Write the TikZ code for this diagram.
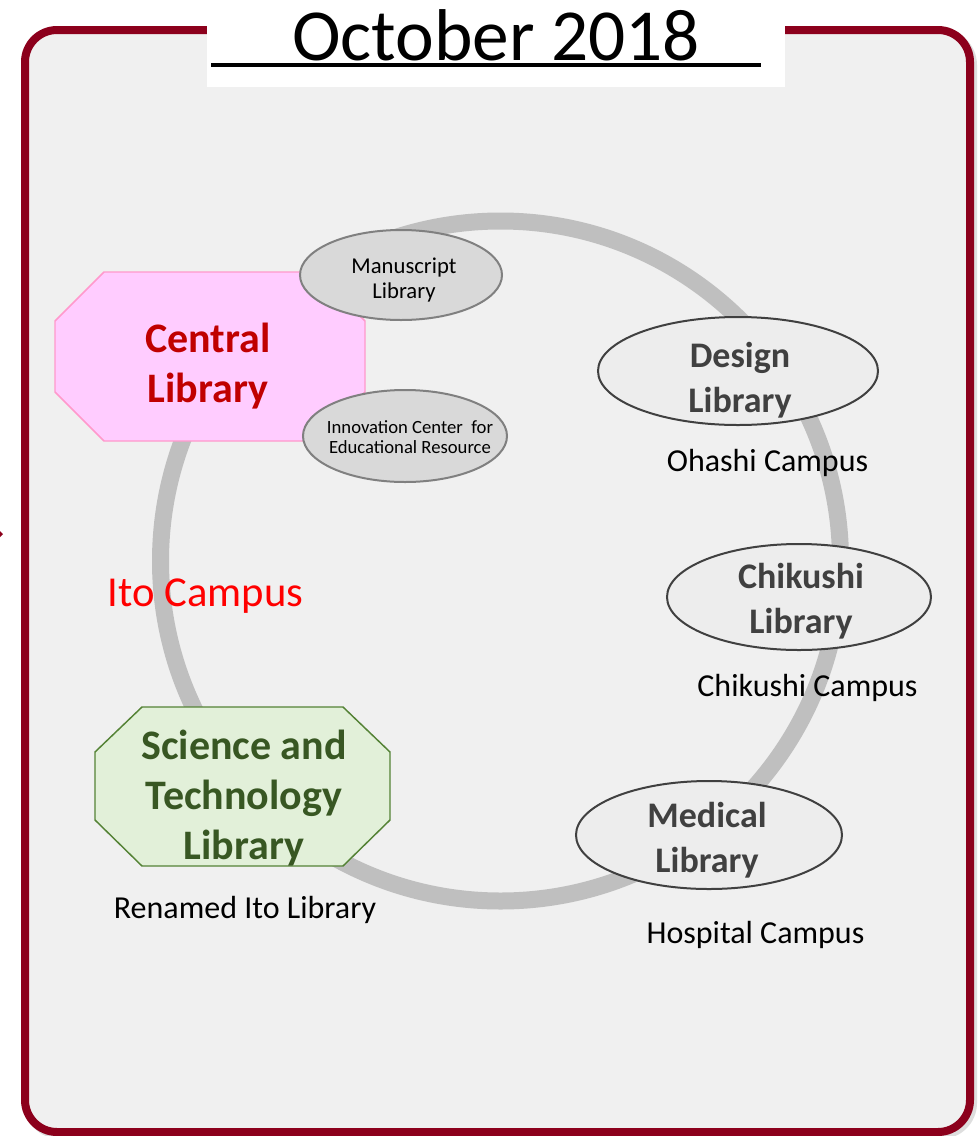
\documentclass[tikz,border=0pt]{standalone}
\usepackage{fontspec}
\setmainfont{Carlito}
\usetikzlibrary{shapes.geometric}
\definecolor{framered}{RGB}{140,0,28}
\definecolor{bgfill}{RGB}{240,240,240}
\definecolor{ringgray}{RGB}{191,191,191}
\definecolor{pinkfill}{RGB}{255,204,255}
\definecolor{pinkline}{RGB}{255,153,204}
\definecolor{centralred}{RGB}{192,0,0}
\definecolor{greenfill}{RGB}{226,240,217}
\definecolor{greenline}{RGB}{84,130,53}
\definecolor{greentext}{RGB}{56,87,35}
\definecolor{darktext}{RGB}{64,64,64}
\definecolor{ellline}{RGB}{64,64,64}
\definecolor{ellfill}{RGB}{237,237,237}
\definecolor{subfill}{RGB}{217,217,217}
\definecolor{subline}{RGB}{128,128,128}
\begin{document}
\begin{tikzpicture}[x=0.75pt,y=-0.75pt,
  bigell/.style={shape=ellipse, draw=ellline, line width=1.5pt, fill=ellfill, inner sep=0pt},
  subell/.style={shape=ellipse, draw=subline, line width=1.5pt, fill=subfill, inner sep=0pt},
  bigtext/.style={inner sep=0pt, align=center, text=darktext, font=\bfseries\fontsize{27}{34}\selectfont},
  campus/.style={inner sep=0pt, anchor=base, font=\fontsize{24}{28}\selectfont},
  octtext/.style={inner sep=0pt, align=center, font=\bfseries\fontsize{31.5}{37.5}\selectfont}]
\useasboundingbox (0,0) rectangle (980,1136);
\fill[white] (0,0) rectangle (980,1136);
% frame shadow and frame
\draw[black!25, line width=6pt, rounded corners=24pt, opacity=0.5] (28,33) rectangle (973,1135);
\draw[framered, line width=6pt, fill=bgfill, rounded corners=24pt] (25,30) rectangle (970,1132);
\fill[framered] (0,531) -- (3,534) -- (0,537) -- cycle;
% title
\fill[white] (207,-2) rectangle (785,87);
\node[anchor=base, inner sep=0pt, font=\fontsize{55}{66}\selectfont] (title) at (496,60) {October 2018};
\coordinate (ulA) at (211,65);
\coordinate (ulB) at (761,65);
\draw[black, line width=3.5pt] (ulA) -- (ulB);
% ring
\draw[ringgray, line width=12.75pt] (500.5,561) circle [radius=255pt];
% Central Library octagon
\draw[pinkline, line width=1.1pt, fill=pinkfill]
  (104,272) -- (316,272) -- (365,321) -- (365,392) -- (316,441) -- (104,441) -- (55,392) -- (55,321) -- cycle;
\node[octtext, text=centralred] (central) at (208,366) {Central\\Library};
% Science and Technology octagon
\draw[greenline, line width=1.1pt, fill=greenfill]
  (142,707) -- (343,707) -- (390,752) -- (390,820) -- (343,866) -- (142,866) -- (95,820) -- (95,752) -- cycle;
\node[octtext, text=greentext] (science) at (244,798) {Science and\\Technology\\Library};
% sub ellipses
\node[subell, minimum width=151.5pt, minimum height=67.5pt] (manell) at (401,275) {};
\node[inner sep=0pt, align=center, font=\fontsize{17}{18.75}\selectfont] (mantext) at (404,280) {Manuscript\\Library};
\node[subell, minimum width=153pt, minimum height=69pt] (innell) at (405,436) {};
\node[inner sep=0pt, align=center, font=\fontsize{14}{15}\selectfont] (inntext) at (410,437) {Innovation Center\ \ for\\Educational Resource};
% campus ellipses
\node[bigell, minimum width=210pt, minimum height=81pt] (desell) at (738,371) {};
\node[bigtext] (destext) at (740,380) {Design\\Library};
\node[bigell, minimum width=198pt, minimum height=79.5pt] (chiell) at (799,597) {};
\node[bigtext] (chitext) at (801,601) {Chikushi\\Library};
\node[bigell, minimum width=199.5pt, minimum height=81pt] (medell) at (709,835) {};
\node[bigtext] (medtext) at (707,840) {Medical\\Library};
% campus labels
\node[campus] (ohashi) at (767.5,471) {Ohashi Campus};
\node[campus] (chikushi) at (807.5,696) {Chikushi Campus};
\node[campus] (hospital) at (755.5,943) {Hospital Campus};
\node[campus] (renamed) at (245,918) {Renamed Ito Library};
\node[inner sep=0pt, anchor=base, text=red, font=\fontsize{32}{38}\selectfont] (ito) at (205.5,606) {Ito Campus};
\end{tikzpicture}
\end{document}
